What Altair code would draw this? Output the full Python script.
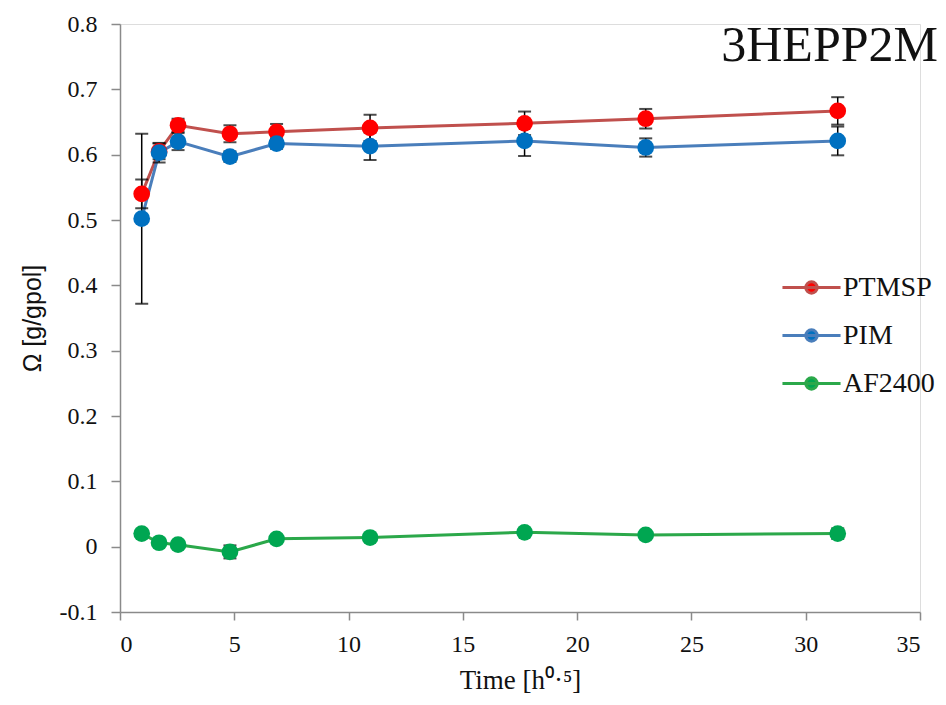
import altair as alt
import pandas as pd

# ---- data ----
time_sqrt_h = [0.95, 1.71, 2.54, 4.81, 6.85, 10.94, 17.7, 23.0, 31.4]
series_names = ["PTMSP", "PIM", "AF2400"]

ptmsp_omega = [0.540, 0.605, 0.645, 0.632, 0.635, 0.641, 0.648, 0.655, 0.667]
ptmsp_err = [0.022, 0.012, 0.010, 0.013, 0.012, 0.020, 0.018, 0.015, 0.021]

pim_omega = [0.502, 0.603, 0.620, 0.597, 0.617, 0.613, 0.621, 0.611, 0.621]
pim_err = [0.130, 0.015, 0.013, 0.008, 0.008, 0.021, 0.023, 0.014, 0.022]

af2400_omega = [0.020, 0.006, 0.003, -0.008, 0.012, 0.014, 0.022, 0.018, 0.020]
af2400_err = [0.004, 0.004, 0.004, 0.010, 0.004, 0.004, 0.004, 0.004, 0.008]

x_ticks = [0, 5, 10, 15, 20, 25, 30, 35]
y_ticks = [-0.1, 0.0, 0.1, 0.2, 0.3, 0.4, 0.5, 0.6, 0.7, 0.8]

line_colors = ["#C0504D", "#4A7EBB", "#2BA84A"]
marker_colors = ["#FF0000", "#0070C0", "#00A651"]

rows = []
for name, vals, errs in zip(series_names,
                            [ptmsp_omega, pim_omega, af2400_omega],
                            [ptmsp_err, pim_err, af2400_err]):
    for t, v, e in zip(time_sqrt_h, vals, errs):
        rows.append({"series": name, "time": t, "omega": v,
                     "lo": v - e, "hi": v + e})
df = pd.DataFrame(rows)

SERIF = "Liberation Serif"
AXIS_COLOR = "#8a8a8a"

x_enc = alt.X(
    "time:Q",
    scale=alt.Scale(domain=[0, 35], nice=False, zero=False),
    axis=alt.Axis(values=x_ticks, title="Time [h⁰·⁵]", grid=False,
                  labelFont=SERIF, labelFontSize=24, labelColor="#111",
                  titleFont=SERIF, titleFontSize=27, titleFontWeight="normal",
                  titleColor="#111", titlePadding=11,
                  domainColor=AXIS_COLOR, domainWidth=1.5,
                  tickColor=AXIS_COLOR, tickSize=8, tickWidth=1.5,
                  labelPadding=12),
)
y_enc = alt.Y(
    "omega:Q",
    scale=alt.Scale(domain=[-0.1, 0.8], nice=False, zero=False),
    axis=alt.Axis(values=y_ticks, title="Ω [g/gpol]", grid=False,
                  labelExpr="datum.value < 0 ? '-' + format(-datum.value, '.1~f') : format(datum.value, '.1~f')",
                  labelFont=SERIF, labelFontSize=24, labelColor="#111",
                  titleFont="Liberation Sans", titleFontSize=25,
                  titleFontWeight="normal", titleColor="#111", titlePadding=14,
                  domainColor=AXIS_COLOR, domainWidth=1.5,
                  tickColor=AXIS_COLOR, tickSize=9, tickWidth=1.5,
                  labelPadding=14),
)

legend_symbol = ("M-1.32,0L1.32,0M0.26,0A0.26,0.26,0,1,1,-0.26,0"
                 "A0.26,0.26,0,1,1,0.26,0Z")
legend_def = alt.Legend(
    title=None, orient="none", legendX=668, legendY=240,
    symbolType=legend_symbol, symbolSize=1936, symbolStrokeWidth=3,
    labelFont=SERIF, labelFontSize=28, labelColor="#111",
    labelOffset=8, rowPadding=10, padding=0,
)

base = alt.Chart(df)

lines = base.mark_line(strokeWidth=3).encode(
    x=x_enc, y=y_enc,
    stroke=alt.Stroke("series:N",
                      scale=alt.Scale(domain=series_names, range=line_colors),
                      legend=legend_def),
)

err_rule = base.mark_rule(color="black", strokeWidth=1.5).encode(
    x="time:Q", y="lo:Q", y2="hi:Q")
cap_lo = base.mark_tick(color="black", thickness=2, size=13,
                        orient="horizontal").encode(x="time:Q", y="lo:Q")
cap_hi = base.mark_tick(color="black", thickness=2, size=13,
                        orient="horizontal").encode(x="time:Q", y="hi:Q")

points = base.mark_circle(size=280, opacity=1).encode(
    x=x_enc, y=y_enc,
    fill=alt.Fill("series:N",
                  scale=alt.Scale(domain=series_names, range=marker_colors),
                  legend=legend_def),
)

chart = alt.layer(lines, err_rule, cap_lo, cap_hi, points).properties(
    width=800, height=588,
    autosize=alt.AutoSizeParams(type="none"),
    padding={"left": 120, "top": 24, "right": 26, "bottom": 93},
    title=alt.TitleParams(text="3HEPP2M", anchor="end", frame="group",
                          font=SERIF, fontSize=50, fontWeight="normal",
                          color="#111", baseline="alphabetic", offset=0,
                          dx=18, dy=99),
).configure_view(stroke=None).configure(
    background="white", font=SERIF
).configure_axis(labelFont=SERIF).configure_legend(labelFont=SERIF)

chart.save("out.html", embed_options={"renderer": "svg", "actions": False})
